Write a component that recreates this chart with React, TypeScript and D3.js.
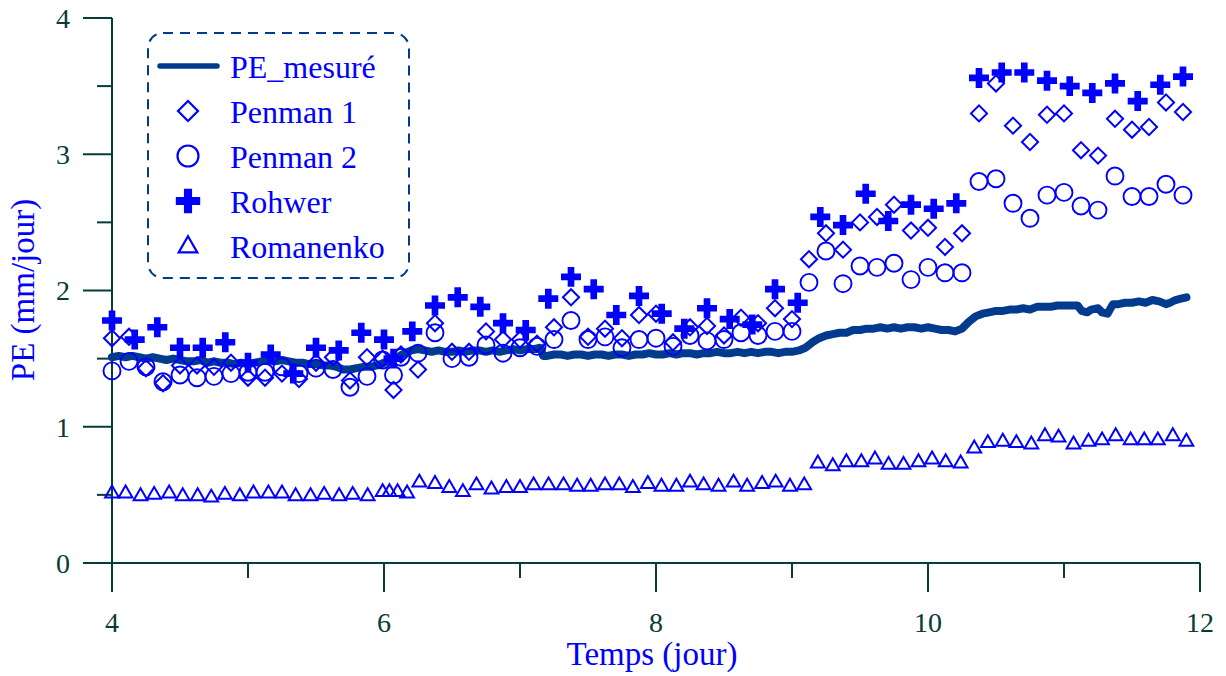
import React from "react";
import * as d3 from "d3";

// ---------- DATA ----------
const xMajorTicks = [4, 6, 8, 10, 12];
const xMinorTicks = [5, 7, 9, 11];
const yMajorTicks = [0, 1, 2, 3, 4];
const yMinorTicks = [0.5, 1.5, 2.5, 3.5];

const seriesNames = ["PE_mesuré", "Penman 1", "Penman 2", "Rohwer", "Romanenko"];

// PE mesuré (line)
const peTime = [
  4.0, 4.05, 4.1, 4.15, 4.2, 4.25, 4.3, 4.35, 4.4, 4.45, 4.5, 4.55, 4.6, 4.65, 4.7, 4.75, 4.8, 4.85, 4.9, 4.95,
  5.0, 5.05, 5.1, 5.15, 5.2, 5.25, 5.3, 5.35, 5.4, 5.45, 5.5, 5.55, 5.6, 5.65, 5.7, 5.75, 5.8, 5.85, 5.9, 5.95,
  6.0, 6.05, 6.1, 6.15, 6.2, 6.25, 6.3, 6.35, 6.4, 6.45, 6.5, 6.55, 6.6, 6.65, 6.7, 6.75, 6.8, 6.85, 6.9, 6.95,
  7.0, 7.05, 7.1, 7.15, 7.17, 7.2, 7.25, 7.3, 7.35, 7.4, 7.45, 7.5, 7.55, 7.6, 7.65, 7.7, 7.75, 7.8, 7.85, 7.9, 7.95,
  8.0, 8.05, 8.1, 8.15, 8.2, 8.25, 8.3, 8.35, 8.4, 8.45, 8.5, 8.55, 8.6, 8.65, 8.7, 8.75, 8.8, 8.85, 8.9, 8.95,
  9.0, 9.05, 9.1, 9.15, 9.2, 9.25, 9.3, 9.35, 9.4, 9.45, 9.5, 9.55, 9.6, 9.65, 9.7, 9.75, 9.8, 9.85, 9.9, 9.95,
  10.0, 10.05, 10.1, 10.15, 10.2, 10.25, 10.3, 10.35, 10.4, 10.45, 10.5, 10.55, 10.6, 10.65, 10.7, 10.75, 10.8, 10.85, 10.9, 10.95,
  11.0, 11.05, 11.1, 11.13, 11.17, 11.2, 11.25, 11.28, 11.32, 11.36, 11.4, 11.45, 11.5, 11.55, 11.6, 11.65, 11.7, 11.75, 11.78, 11.82, 11.86, 11.9,
];
const peValue = [
  1.51, 1.52, 1.51, 1.52, 1.51, 1.5, 1.51, 1.5, 1.49, 1.5, 1.49, 1.48, 1.48, 1.49, 1.47, 1.48, 1.47, 1.47, 1.46, 1.47,
  1.46, 1.47, 1.48, 1.49, 1.48, 1.49, 1.48, 1.47, 1.47, 1.46, 1.46, 1.45, 1.45, 1.44, 1.42, 1.42, 1.43, 1.44, 1.44, 1.45,
  1.47, 1.49, 1.51, 1.54, 1.56, 1.57, 1.56, 1.55, 1.56, 1.55, 1.55, 1.56, 1.55, 1.56, 1.56, 1.55, 1.56, 1.55, 1.56, 1.57,
  1.56, 1.57, 1.57, 1.58, 1.52, 1.52, 1.53, 1.53, 1.52, 1.53, 1.53, 1.52, 1.53, 1.53, 1.52, 1.53, 1.53, 1.52, 1.53, 1.53, 1.54,
  1.53, 1.53, 1.54, 1.53, 1.54, 1.54, 1.53, 1.54, 1.54, 1.55, 1.54, 1.54, 1.55, 1.54, 1.55, 1.54, 1.55, 1.55, 1.54, 1.55,
  1.55, 1.56, 1.58, 1.62, 1.65, 1.67, 1.68, 1.69, 1.69, 1.71, 1.71, 1.72, 1.72, 1.73, 1.72, 1.73, 1.72, 1.73, 1.73, 1.72,
  1.73, 1.72, 1.71, 1.71, 1.7, 1.72, 1.77, 1.81, 1.83, 1.84, 1.85, 1.85, 1.86, 1.86, 1.87, 1.86, 1.88, 1.88, 1.88, 1.89,
  1.89, 1.89, 1.89, 1.85, 1.84, 1.86, 1.87, 1.84, 1.83, 1.9, 1.9, 1.91, 1.91, 1.92, 1.91, 1.93, 1.92, 1.9, 1.91, 1.93, 1.94, 1.95,
];

// Penman 1 & 2 (shared times)
const penmanTime = [
  4.0, 4.125, 4.25, 4.375, 4.5, 4.625, 4.75, 4.875, 5.0, 5.125, 5.25, 5.375, 5.5, 5.625, 5.75, 5.875,
  5.99, 6.07, 6.125, 6.25, 6.375, 6.5, 6.625, 6.75, 6.875, 7.0, 7.125, 7.25, 7.375, 7.5, 7.625, 7.75, 7.875,
  8.0, 8.125, 8.25, 8.375, 8.5, 8.625, 8.75, 8.875, 9.0, 9.125, 9.25, 9.375, 9.5, 9.625, 9.75, 9.875,
  10.0, 10.125, 10.25, 10.375, 10.5, 10.625, 10.75, 10.875, 11.0, 11.125, 11.25, 11.375, 11.5, 11.625, 11.75, 11.875,
];
const penman1 = [
  1.65, 1.66, 1.43, 1.32, 1.45, 1.45, 1.44, 1.47, 1.36, 1.36, 1.39, 1.35, 1.47, 1.51, 1.34, 1.51,
  1.5, 1.27, 1.53, 1.42, 1.76, 1.55, 1.55, 1.7, 1.64, 1.64, 1.61, 1.73, 1.95, 1.66, 1.72, 1.65, 1.82,
  1.83, 1.62, 1.73, 1.74, 1.67, 1.8, 1.76, 1.87, 1.79, 2.23, 2.42, 2.3, 2.5, 2.54, 2.63, 2.44,
  2.46, 2.32, 2.42, 3.3, 3.52, 3.21, 3.09, 3.29, 3.3, 3.03, 2.99, 3.26, 3.18, 3.2, 3.38, 3.31,
];
const penman2 = [
  1.41, 1.48, 1.44, 1.33, 1.38, 1.36, 1.37, 1.39, 1.4, 1.4, 1.44, 1.39, 1.43, 1.42, 1.29, 1.37,
  1.49, 1.38, 1.51, 1.54, 1.69, 1.5, 1.51, 1.6, 1.54, 1.58, 1.59, 1.64, 1.78, 1.64, 1.66, 1.58, 1.64,
  1.65, 1.59, 1.67, 1.63, 1.64, 1.69, 1.67, 1.7, 1.7, 2.06, 2.29, 2.05, 2.18, 2.17, 2.2, 2.08,
  2.17, 2.13, 2.13, 2.8, 2.82, 2.64, 2.53, 2.7, 2.72, 2.62, 2.59, 2.84, 2.69, 2.69, 2.78, 2.7,
];

// Rohwer
const rohwerTime = [
  4.0, 4.167, 4.333, 4.5, 4.667, 4.833, 5.0, 5.167, 5.333, 5.5, 5.667, 5.833, 6.0, 6.07,
  6.208, 6.375, 6.542, 6.708, 6.875, 7.042, 7.208, 7.375, 7.542, 7.708, 7.875, 8.042, 8.208, 8.375,
  8.542, 8.708, 8.875, 9.042, 9.208, 9.375, 9.542, 9.708, 9.875, 10.042, 10.208, 10.375, 10.542,
  10.708, 10.875, 11.042, 11.208, 11.375, 11.542, 11.708, 11.875,
];
const rohwer = [
  1.78, 1.64, 1.73, 1.58, 1.58, 1.62, 1.47, 1.53, 1.39, 1.58, 1.56, 1.69, 1.64, 1.5,
  1.7, 1.89, 1.95, 1.88, 1.76, 1.71, 1.94, 2.1, 2.01, 1.82, 1.96, 1.83, 1.72, 1.87,
  1.79, 1.75, 2.01, 1.91, 2.54, 2.48, 2.71, 2.51, 2.63, 2.6, 2.64, 3.56, 3.6,
  3.6, 3.54, 3.5, 3.45, 3.52, 3.39, 3.51, 3.57,
];

// Romanenko
const romanenkoTime = [
  4.0, 4.1, 4.21, 4.31, 4.42, 4.52, 4.63, 4.73, 4.83, 4.94, 5.04, 5.15, 5.25, 5.35, 5.46, 5.56, 5.67, 5.77, 5.88,
  5.99, 6.04, 6.1, 6.17, 6.26, 6.375, 6.48, 6.58, 6.68, 6.79, 6.9, 7.0, 7.1, 7.21, 7.32, 7.42, 7.52, 7.625,
  7.73, 7.83, 7.94, 8.04, 8.15, 8.25, 8.35, 8.46, 8.57, 8.67, 8.78, 8.88, 8.985, 9.09, 9.19, 9.3, 9.4,
  9.51, 9.61, 9.71, 9.82, 9.93, 10.03, 10.13, 10.24, 10.34, 10.44, 10.55, 10.65, 10.76, 10.86, 10.96,
  11.07, 11.18, 11.28, 11.38, 11.49, 11.59, 11.69, 11.8, 11.9,
];
const romanenko = [
  0.51, 0.51, 0.49, 0.5, 0.51, 0.49, 0.49, 0.48, 0.5, 0.49, 0.51, 0.51, 0.51, 0.49, 0.49, 0.5, 0.49, 0.5, 0.49,
  0.52, 0.52, 0.52, 0.51, 0.59, 0.58, 0.55, 0.52, 0.57, 0.54, 0.55, 0.55, 0.57, 0.57, 0.57, 0.56, 0.56, 0.57,
  0.57, 0.55, 0.58, 0.56, 0.56, 0.59, 0.57, 0.56, 0.59, 0.56, 0.58, 0.59, 0.56, 0.57, 0.73, 0.71, 0.74,
  0.74, 0.76, 0.72, 0.72, 0.74, 0.76, 0.74, 0.73, 0.84, 0.88, 0.89, 0.88, 0.87, 0.93, 0.92,
  0.87, 0.89, 0.9, 0.93, 0.9, 0.9, 0.9, 0.93, 0.89,
];

// ---------- STYLE ----------
const W = 1226;
const H = 676;
const AXIS = "#073b3a";
const BLUE = "#0000ff";
const LINE = "#003b8e";
const FONT = "'Liberation Serif', 'Times New Roman', serif";

const x = d3.scaleLinear().domain([4, 12]).range([112, 1200]);
const y = d3.scaleLinear().domain([0, 4]).range([563, 18]);

const diamondPath = d3.symbol(d3.symbolSquare, 130)()!;
const diamondPathLg = d3.symbol(d3.symbolSquare, 200)()!;
const crossPath = d3.symbol(d3.symbolCross, 222)()!;
const crossPathLg = d3.symbol(d3.symbolCross, 330)()!;
const triPath = d3.symbol(d3.symbolTriangle, 82)()!;
const triPathLg = d3.symbol(d3.symbolTriangle, 150)()!;

export default function App() {
  const pePts: [number, number][] = peTime.map((t, i) => [t, peValue[i]]);
  const line = d3
    .line<[number, number]>()
    .x((d) => x(d[0]))
    .y((d) => y(d[1]))
    .curve(d3.curveLinear);

  const legendRows = [45, 90, 135, 180, 225].map((o) => 66 + o - 45);

  return (
    <svg
      width={W}
      height={H}
      style={{ position: "absolute", left: 0, top: 0, background: "#fff" }}
      fontFamily={FONT}
    >
      {/* axes */}
      <line x1={x(4)} x2={x(4)} y1={y(4)} y2={y(0)} stroke={AXIS} strokeWidth={2} />
      <line x1={x(4)} x2={x(12)} y1={y(0)} y2={y(0)} stroke={AXIS} strokeWidth={2.2} />
      {yMajorTicks.map((v) => (
        <g key={"ym" + v}>
          <line x1={x(4) - 29} x2={x(4)} y1={y(v)} y2={y(v)} stroke={AXIS} strokeWidth={2} />
          <text x={70} y={y(v)} dy="0.35em" textAnchor="end" fontSize={28} fill={AXIS}>
            {v}
          </text>
        </g>
      ))}
      {yMinorTicks.map((v) => (
        <line key={"yn" + v} x1={x(4) - 15} x2={x(4)} y1={y(v)} y2={y(v)} stroke={AXIS} strokeWidth={2} />
      ))}
      {xMajorTicks.map((v) => (
        <g key={"xm" + v}>
          <line x1={x(v)} x2={x(v)} y1={y(0)} y2={y(0) + 29} stroke={AXIS} strokeWidth={2} />
          <text x={x(v)} y={632} textAnchor="middle" fontSize={28} fill={AXIS}>
            {v}
          </text>
        </g>
      ))}
      {xMinorTicks.map((v) => (
        <line key={"xn" + v} x1={x(v)} x2={x(v)} y1={y(0)} y2={y(0) + 15} stroke={AXIS} strokeWidth={2} />
      ))}

      {/* axis titles */}
      <text x={652} y={665} textAnchor="middle" fontSize={33} fill={BLUE}>
        Temps (jour)
      </text>
      <text
        transform={`translate(34, 290) rotate(-90)`}
        textAnchor="middle"
        fontSize={33}
        fill={BLUE}
      >
        PE (mm/jour)
      </text>

      {/* PE measured line */}
      <path
        d={line(pePts) || ""}
        fill="none"
        stroke={LINE}
        strokeWidth={8}
        strokeLinejoin="round"
        strokeLinecap="round"
      />

      {/* Romanenko */}
      {romanenkoTime.map((t, i) => (
        <path
          key={"ro" + i}
          d={triPath}
          transform={`translate(${x(t)},${y(romanenko[i])})`}
          fill="none"
          stroke={BLUE}
          strokeWidth={2}
        />
      ))}
      {/* Penman 2 */}
      {penmanTime.map((t, i) => (
        <circle key={"p2" + i} cx={x(t)} cy={y(penman2[i])} r={8.5} fill="none" stroke={BLUE} strokeWidth={1.9} />
      ))}
      {/* Penman 1 */}
      {penmanTime.map((t, i) => (
        <path
          key={"p1" + i}
          d={diamondPath}
          transform={`translate(${x(t)},${y(penman1[i])}) rotate(45)`}
          fill="none"
          stroke={BLUE}
          strokeWidth={2}
        />
      ))}
      {/* Rohwer */}
      {rohwerTime.map((t, i) => (
        <path key={"rw" + i} d={crossPath} transform={`translate(${x(t)},${y(rohwer[i])})`} fill={BLUE} />
      ))}

      {/* legend */}
      <rect
        x={148}
        y={33}
        width={261}
        height={245}
        rx={15}
        ry={15}
        fill="#fff"
        fillOpacity={0}
        stroke={LINE}
        strokeWidth={2}
        strokeDasharray="10,7"
      />
      <line x1={160} x2={217} y1={legendRows[0]} y2={legendRows[0]} stroke={LINE} strokeWidth={5.5} strokeLinecap="round" />
      <path d={diamondPathLg} transform={`translate(188,${legendRows[1]}) rotate(45)`} fill="none" stroke={BLUE} strokeWidth={2.2} />
      <circle cx={188} cy={legendRows[2]} r={10.5} fill="none" stroke={BLUE} strokeWidth={2.2} />
      <path d={crossPathLg} transform={`translate(188,${legendRows[3]})`} fill={BLUE} />
      <path d={triPathLg} transform={`translate(188,${legendRows[4] + 1})`} fill="none" stroke={BLUE} strokeWidth={2.2} />
      {seriesNames.map((n, i) => (
        <text key={n} x={230} y={legendRows[i]} dy="0.36em" fontSize={32} fill={BLUE}>
          {n}
        </text>
      ))}
    </svg>
  );
}
